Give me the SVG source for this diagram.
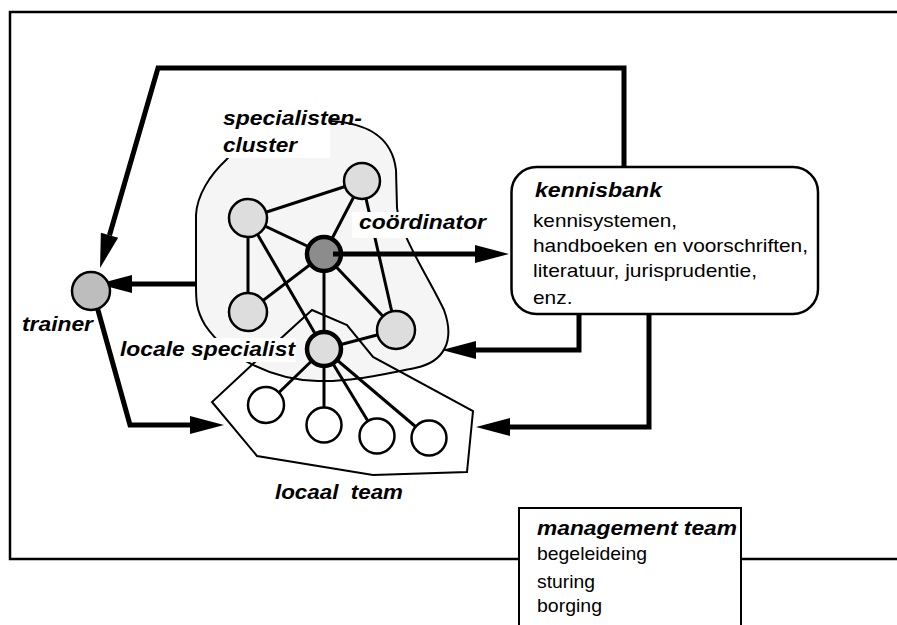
<svg xmlns="http://www.w3.org/2000/svg" width="897" height="625" viewBox="0 0 897 625">
<style>
.t{font-family:"Liberation Sans",Arial,sans-serif;fill:#000}
.b{font-weight:bold;font-style:italic;font-size:21px}
.r{font-size:19px}
.thick{fill:none;stroke:#000;stroke-width:5}
.edge{stroke:#000;stroke-width:3}
.cl{fill:#ddd;stroke:#000;stroke-width:2.5}
.key{stroke:#000;stroke-width:4.5}
.tm{fill:#fff;stroke:#000;stroke-width:2.5}
</style>
<defs>
<marker id="ah" markerUnits="userSpaceOnUse" markerWidth="40" markerHeight="20" refX="0" refY="10" orient="auto" overflow="visible">
<path d="M0,1 L34,10 L0,19 z" fill="#000"/>
</marker>
</defs>
<rect width="897" height="625" fill="#fff"/>
<g id="frame">
<path d="M897,12 H10 V559 H519 M741,559 H897" fill="none" stroke="#000" stroke-width="2.5"/>
</g>
<g id="cluster">
<path d="M240,145 C260,125 300,120 330,121 C365,123 392,135 396,170 L397,208 C400,235 430,280 444,310 C455,340 445,362 415,368 C380,375 350,382 318,381 C270,380 225,355 205,325 C196,310 196,300 196,285 L196,215 C197,195 210,175 226,160 Z" fill="#f5f5f5" stroke="#000" stroke-width="2"/>
</g>
<g id="local-team-area">
<polygon points="312,310 347,325 373,357 473,411 467,472 373,475 257,456 212,402 255,362" fill="none" stroke="#000" stroke-width="2"/>
</g>
<g id="connectors">
<line class="edge" x1="248" y1="218" x2="362" y2="181"/>
<line class="edge" x1="248" y1="218" x2="324" y2="254"/>
<line class="edge" x1="248" y1="218" x2="248" y2="312"/>
<line class="edge" x1="248" y1="218" x2="324" y2="349"/>
<line class="edge" x1="362" y1="181" x2="324" y2="254"/>
<line class="edge" x1="362" y1="181" x2="396" y2="330"/>
<line class="edge" x1="324" y1="254" x2="248" y2="312"/>
<line class="edge" x1="324" y1="254" x2="396" y2="330"/>
<line class="edge" x1="324" y1="254" x2="324" y2="349"/>
<line class="edge" x1="324" y1="349" x2="396" y2="330"/>
<line class="edge" x1="324" y1="349" x2="266" y2="405"/>
<line class="edge" x1="324" y1="349" x2="324" y2="425"/>
<line class="edge" x1="324" y1="349" x2="377" y2="436"/>
<line class="edge" x1="324" y1="349" x2="429" y2="438"/>
<path class="thick" d="M624,167 V68 H158 L109.5,235.3" marker-end="url(#ah)"/>
<path class="thick" d="M197,284 H132" marker-end="url(#ah)"/>
<path class="thick" d="M96,303 L130,425 H190" marker-end="url(#ah)"/>
<path class="thick" d="M579,314 V350 H476" marker-end="url(#ah)"/>
<path class="thick" d="M649,314 V427 H510" marker-end="url(#ah)"/>
</g>
<g id="node-A"><circle class="cl" cx="248" cy="218" r="19"/></g>
<g id="node-B"><circle class="cl" cx="362" cy="181" r="18"/></g>
<g id="node-D"><circle class="cl" cx="248" cy="312" r="19"/></g>
<g id="node-E"><circle class="cl" cx="396" cy="330" r="19"/></g>
<g id="node-coordinator">
<circle class="key" cx="324" cy="254" r="17" fill="#8c8c8c"/>
<path class="thick" d="M333,254 H475" marker-end="url(#ah)"/>
</g>
<g id="node-locale-specialist"><circle class="key" cx="324" cy="349" r="17" fill="#ddd"/></g>
<g id="node-team1"><circle class="tm" cx="266" cy="405" r="18"/></g>
<g id="node-team2"><circle class="tm" cx="324" cy="425" r="17.5"/></g>
<g id="node-team3"><circle class="tm" cx="377" cy="436" r="17.5"/></g>
<g id="node-team4"><circle class="tm" cx="429" cy="438" r="17.5"/></g>
<g id="node-trainer">
<circle cx="91" cy="291" r="19" fill="#bdbdbd" stroke="#000" stroke-width="2.5"/>
<text class="t b" x="22" y="331" textLength="71" lengthAdjust="spacingAndGlyphs">trainer</text>
</g>
<g id="label-cluster">
<rect x="219" y="106" width="111" height="52" fill="#fff"/>
<text class="t b" x="223" y="125" textLength="139" lengthAdjust="spacingAndGlyphs">specialisten-</text>
<text class="t b" x="223" y="152" textLength="74" lengthAdjust="spacingAndGlyphs">cluster</text>
</g>
<g id="label-coordinator">
<rect x="352" y="212" width="136" height="26" fill="#fff"/>
<text class="t b" x="359" y="229" textLength="127" lengthAdjust="spacingAndGlyphs">coördinator</text>
</g>
<g id="label-locale-specialist">
<rect x="116" y="338" width="180" height="24" fill="#fff"/>
<text class="t b" x="120" y="356" textLength="175" lengthAdjust="spacingAndGlyphs">locale specialist</text>
</g>
<g id="label-local-team">
<text class="t b" x="275" y="499" textLength="128" lengthAdjust="spacingAndGlyphs" xml:space="preserve">locaal  team</text>
</g>
<g id="node-kennisbank">
<rect x="511.5" y="167" width="306.5" height="147" rx="25" ry="25" fill="#fff" stroke="#000" stroke-width="2.5"/>
<text class="t b" x="535" y="197" textLength="127" lengthAdjust="spacingAndGlyphs">kennisbank</text>
<text class="t r" x="533" y="227" textLength="144" lengthAdjust="spacingAndGlyphs">kennisystemen,</text>
<text class="t r" x="533" y="252" textLength="275" lengthAdjust="spacingAndGlyphs">handboeken en voorschriften,</text>
<text class="t r" x="533" y="277" textLength="224" lengthAdjust="spacingAndGlyphs">literatuur, jurisprudentie,</text>
<text class="t r" x="533" y="304" textLength="39.5" lengthAdjust="spacingAndGlyphs">enz.</text>
</g>
<g id="node-management-team">
<rect x="519" y="508" width="222" height="130" fill="#fff" stroke="#000" stroke-width="2"/>
<text class="t b" x="537" y="535" textLength="200" lengthAdjust="spacingAndGlyphs">management team</text>
<text class="t r" x="537" y="560" textLength="110" lengthAdjust="spacingAndGlyphs">begeleideing</text>
<text class="t r" x="537" y="588" textLength="58" lengthAdjust="spacingAndGlyphs">sturing</text>
<text class="t r" x="537" y="612" textLength="65" lengthAdjust="spacingAndGlyphs">borging</text>
</g>
</svg>
